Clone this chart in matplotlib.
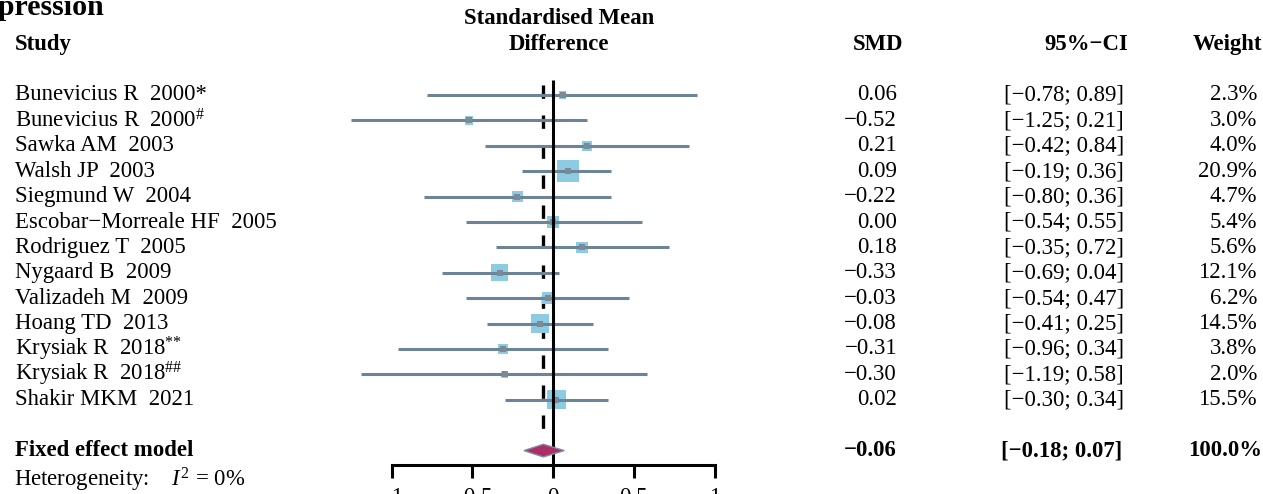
import numpy as np
import matplotlib
matplotlib.use("Agg")
import matplotlib.pyplot as plt
from matplotlib.patches import Polygon

# Dados do forest plot
studies = ["Bunevicius R  2000*", r"Bunevicius R  2000$^{\#}$", "Sawka AM  2003", "Walsh JP  2003",
           "Siegmund W  2004", "Escobar−Morreale HF  2005", "Rodriguez T  2005", "Nygaard B  2009",
           "Valizadeh M  2009", "Hoang TD  2013", r"Krysiak R  2018$^{{*}{*}}$", r"Krysiak R  2018$^{\#\#}$",
           "Shakir MKM  2021"]
smd = [0.06, -0.52, 0.21, 0.09, -0.22, 0.00, 0.18, -0.33, -0.03, -0.08, -0.31, -0.30, 0.02]
ci_lo = [-0.78, -1.25, -0.42, -0.19, -0.80, -0.54, -0.35, -0.69, -0.54, -0.41, -0.96, -1.19, -0.30]
ci_hi = [0.89, 0.21, 0.84, 0.36, 0.36, 0.55, 0.72, 0.04, 0.47, 0.25, 0.34, 0.58, 0.34]
weights = [2.3, 3.0, 4.0, 20.9, 4.7, 5.4, 5.6, 12.1, 6.2, 14.5, 3.8, 2.0, 15.5]
fixed_smd, fixed_lo, fixed_hi, fixed_w = -0.06, -0.18, 0.07, 100.0
x_ticks = [-1, -0.5, 0, 0.5, 1]

plt.rcParams['font.family'] = ['Liberation Serif', 'DejaVu Serif']
plt.rcParams['mathtext.fontset'] = 'custom'
plt.rcParams['mathtext.rm'] = 'Liberation Serif'
plt.rcParams['mathtext.it'] = 'Liberation Serif:italic'
plt.rcParams['mathtext.bf'] = 'Liberation Serif:bold'

FS = 16.4
W, H = 1263, 494
zero_px, unit_px = 553, 161.5          # posição do zero e pixels por unidade
row0_px, row_px = 95, 25.4             # primeira linha e espaçamento

fig = plt.figure(figsize=(W / 100, H / 100), dpi=100)
ax = fig.add_axes([0, 0, 1, 1])
ax.set_xlim(-zero_px / unit_px, (W - zero_px) / unit_px)
ax.set_ylim((H - row0_px) / row_px, -row0_px / row_px)

n = len(studies)
rows = np.arange(n)
fixed_row = 14
axis_row = (465 - row0_px) / row_px

line_col = '#6d8398'
sq_col = '#8dcbe3'

# Quadrados proporcionais ao peso, linhas do IC por cima
sizes = [(22 * 0.72) ** 2 * w / 20.9 for w in weights]
ax.scatter(smd, rows, s=sizes, marker='s', color=sq_col, linewidths=0, zorder=2)
ax.hlines(rows, ci_lo, ci_hi, color=line_col, lw=2.2, zorder=3)
ax.scatter(smd, rows, s=22, marker='s', color='#7c8a98', linewidths=0, zorder=4)

# Linha do zero e linha do modelo fixo
ax.vlines(0, -0.6, axis_row, color='black', lw=2.2, zorder=5)
ax.vlines(fixed_smd, -0.4, 13.6, color='black', lw=2.4, linestyles=(0, (4, 5)), zorder=1)

# Diamante do efeito fixo
dh = 0.25
diamond = Polygon([[fixed_lo, fixed_row], [fixed_smd, fixed_row - dh], [fixed_hi, fixed_row],
                   [fixed_smd, fixed_row + dh]], closed=True, facecolor='#ab2e66',
                  edgecolor='#7d8fa3', lw=1.0, zorder=6)
ax.add_patch(diamond)

# Eixo x
for s in ['top', 'right', 'left']:
    ax.spines[s].set_visible(False)
ax.spines['bottom'].set_position(('data', axis_row))
ax.spines['bottom'].set_bounds(-1, 1)
ax.spines['bottom'].set_linewidth(2.2)
ax.set_yticks([])
ax.set_xticks(x_ticks)
ax.set_xticklabels(['−1', '−0.5', '0', '0.5', '1'])
ax.tick_params(axis='x', direction='out', length=9.5, width=2.2, pad=6, labelsize=FS)
ax.patch.set_visible(False)

tr = ax.get_yaxis_transform()
def fx(px):
    return px / W

def fmt(v):
    return f"{v:.2f}".replace('-', '−')

# Cabeçalhos
ax.text(fx(559), -3, "Standardised Mean", transform=tr, ha='center', va='center', fontsize=FS, fontweight='bold')
ax.text(fx(559), -2, "Difference", transform=tr, ha='center', va='center', fontsize=FS, fontweight='bold')
ax.text(fx(15), -2, "Study", transform=tr, ha='left', va='center', fontsize=FS, fontweight='bold')
ax.text(fx(903), -2, "SMD", transform=tr, ha='right', va='center', fontsize=FS, fontweight='bold')
ax.text(fx(1128), -2, "95%−CI", transform=tr, ha='right', va='center', fontsize=FS, fontweight='bold')
ax.text(fx(1262), -2, "Weight", transform=tr, ha='right', va='center', fontsize=FS, fontweight='bold')

# Linhas dos estudos
for i in range(n):
    ax.text(fx(15), i, studies[i], transform=tr, ha='left', va='center', fontsize=FS)
    ax.text(fx(897), i, fmt(smd[i]), transform=tr, ha='right', va='center', fontsize=FS)
    ax.text(fx(1124), i, f"[{fmt(ci_lo[i])}; {fmt(ci_hi[i])}]", transform=tr, ha='right', va='center', fontsize=FS)
    ax.text(fx(1257), i, f"{weights[i]:.1f}%", transform=tr, ha='right', va='center', fontsize=FS)

# Modelo de efeito fixo
ax.text(fx(15), fixed_row, "Fixed effect model", transform=tr, ha='left', va='center', fontsize=FS, fontweight='bold')
ax.text(fx(897), fixed_row, fmt(fixed_smd), transform=tr, ha='right', va='center', fontsize=FS, fontweight='bold')
ax.text(fx(1122), fixed_row, f"[{fmt(fixed_lo)}; {fmt(fixed_hi)}]", transform=tr, ha='right', va='center', fontsize=FS, fontweight='bold')
ax.text(fx(1262), fixed_row, f"{fixed_w:.1f}%", transform=tr, ha='right', va='center', fontsize=FS, fontweight='bold')
ax.text(fx(14), 15.15, r"Heterogeneity:    $I^2$ = 0%", transform=tr, ha='left', va='center', fontsize=FS)

# Título cortado no topo
fig.text(-36 / W, 1 - 15 / H, "Depression", ha='left', va='baseline', fontsize=21.6, fontweight='bold')

fig.savefig('out.png', dpi=100)
